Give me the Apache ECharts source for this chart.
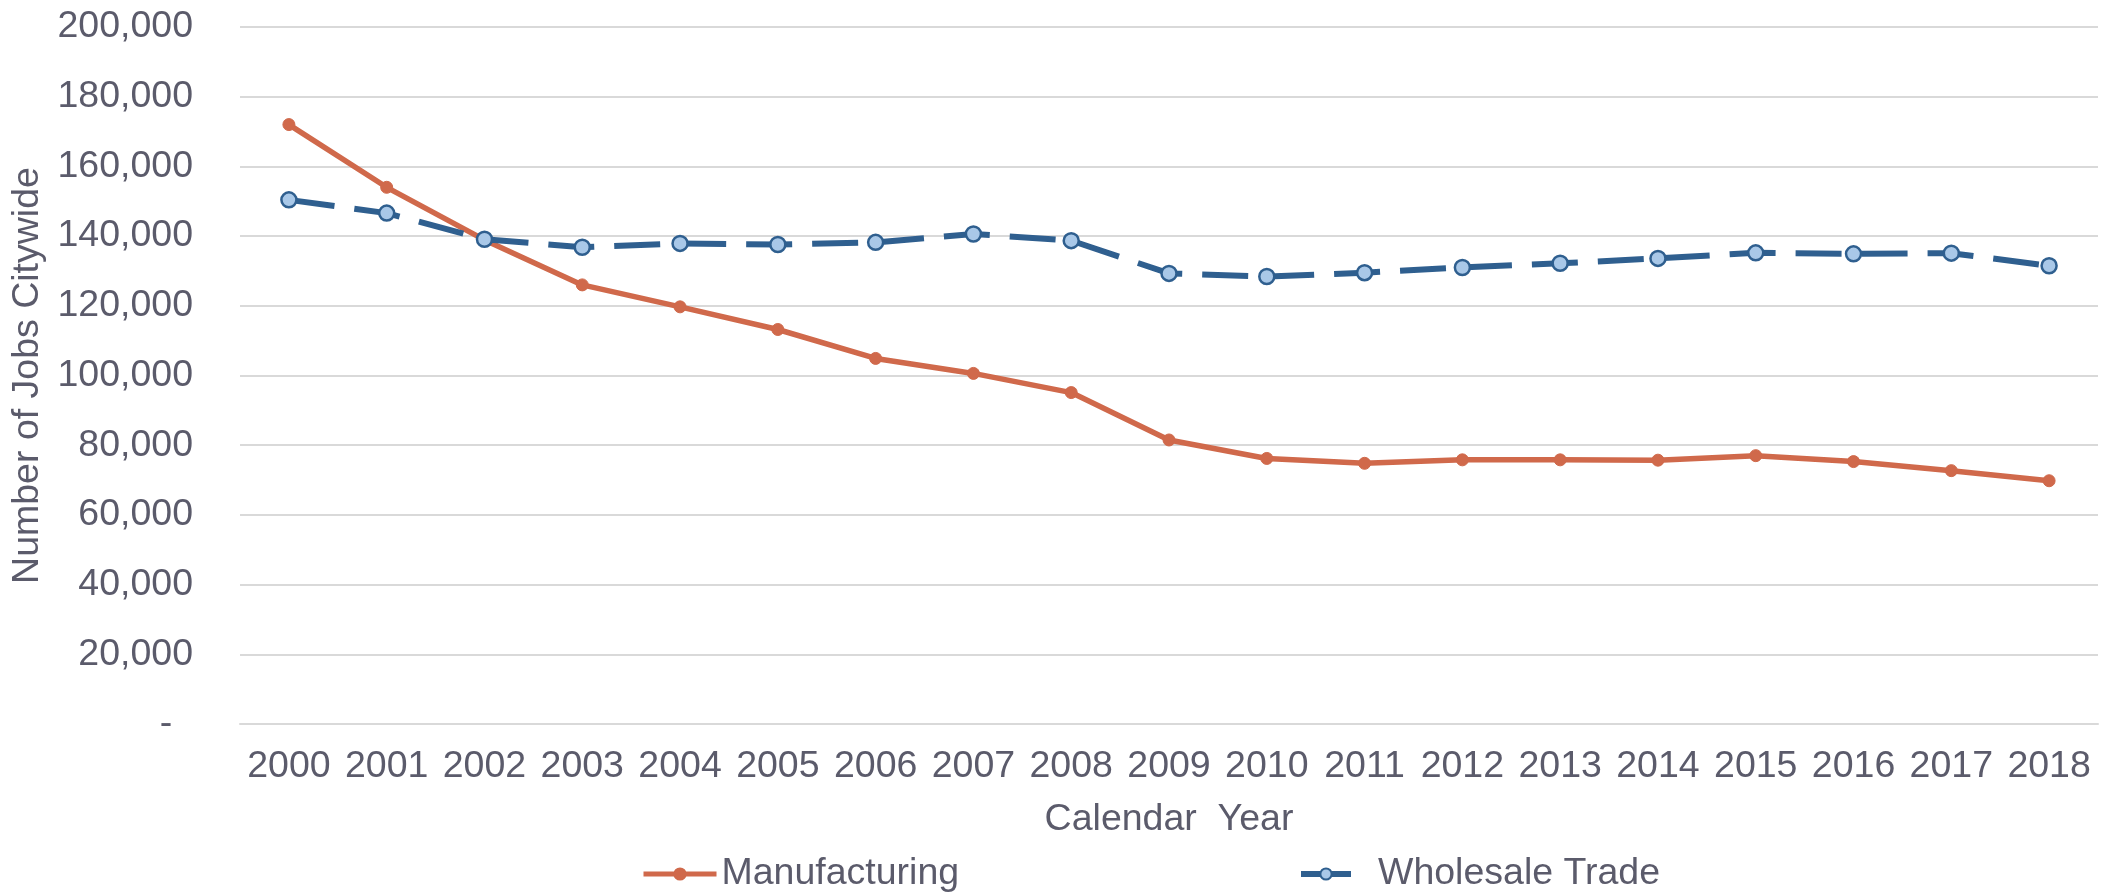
<!DOCTYPE html>
<html>
<head>
<meta charset="utf-8">
<script src="https://cdn.jsdelivr.net/npm/echarts@6/dist/echarts.min.js"></script>
<style>
html,body{margin:0;padding:0;background:#fff;}
#chart{width:2108px;height:892px;}
</style>
</head>
<body>
<div id="chart"></div>
<script>
const years = ['2000','2001','2002','2003','2004','2005','2006','2007','2008','2009','2010','2011','2012','2013','2014','2015','2016','2017','2018'];
const manufacturing = [172000,154000,138900,126000,119700,113200,104900,100600,95100,81500,76200,74800,75800,75800,75700,77000,75300,72700,69800];
const wholesaleTrade = [150400,146600,139100,136800,137900,137600,138200,140600,138700,129300,128400,129500,131000,132200,133600,135200,134900,135100,131500];
const seriesNames = ['Manufacturing','Wholesale Trade'];
const xTitle = 'Calendar  Year';
const yTitle = 'Number of Jobs Citywide';

const FONT = '"Liberation Sans", Arial, sans-serif';
const TXT = '#5B5B6B';
const FS = 37.5;
const chart = echarts.init(document.getElementById('chart'));
chart.setOption({
  animation: false,
  backgroundColor: '#fff',
  grid: {left: 240, right: 10, top: 27, bottom: 168, containLabel: false},
  legend: [
    {data: [seriesNames[0]], left: 636, top: 850, itemWidth: 73, itemHeight: 14,
     lineStyle: {width: 5},
     textStyle: {fontFamily: FONT, fontSize: FS, color: TXT, lineHeight: 36}},
    {data: [seriesNames[1]], left: 1293, top: 850, itemWidth: 50, itemHeight: 14,
     lineStyle: {width: 6, type: 'solid'},
     textStyle: {fontFamily: FONT, fontSize: FS, color: TXT, lineHeight: 36, padding: [0,0,0,22]}}
  ],
  xAxis: {
    type: 'category', data: years, boundaryGap: true,
    name: xTitle, nameLocation: 'middle', nameGap: 77,
    nameTextStyle: {fontFamily: FONT, fontSize: FS, color: TXT},
    axisLine: {show: true, lineStyle: {color: '#D9D9D9', width: 2}},
    axisTick: {show: false},
    axisLabel: {fontFamily: FONT, fontSize: FS, color: TXT, margin: 24, interval: 0}
  },
  yAxis: {
    type: 'value', min: 0, max: 200000, interval: 20000,
    name: yTitle, nameLocation: 'middle', nameGap: 177, nameRotate: 90,
    nameTextStyle: {fontFamily: FONT, fontSize: FS, color: TXT},
    axisLine: {show: false}, axisTick: {show: false},
    splitLine: {lineStyle: {color: '#D9D9D9', width: 2}},
    axisLabel: {fontFamily: FONT, fontSize: FS, color: TXT, margin: 47,
      formatter: v => v === 0 ? '-  ' : v.toLocaleString('en-US')}
  },
  series: [
    {name: seriesNames[0], type: 'line', data: manufacturing,
     symbol: 'circle', symbolSize: 12,
     lineStyle: {color: '#D0694B', width: 5.5},
     itemStyle: {color: '#D0694B', borderColor: '#D0694B', borderWidth: 1}},
    {name: seriesNames[1], type: 'line', data: wholesaleTrade,
     symbol: 'circle', symbolSize: 15,
     lineStyle: {color: '#2F5F8F', width: 6, type: [46, 20]},
     itemStyle: {color: '#A9C8E8', borderColor: '#2F5F8F', borderWidth: 2.5}}
  ]
});
</script>
</body>
</html>
